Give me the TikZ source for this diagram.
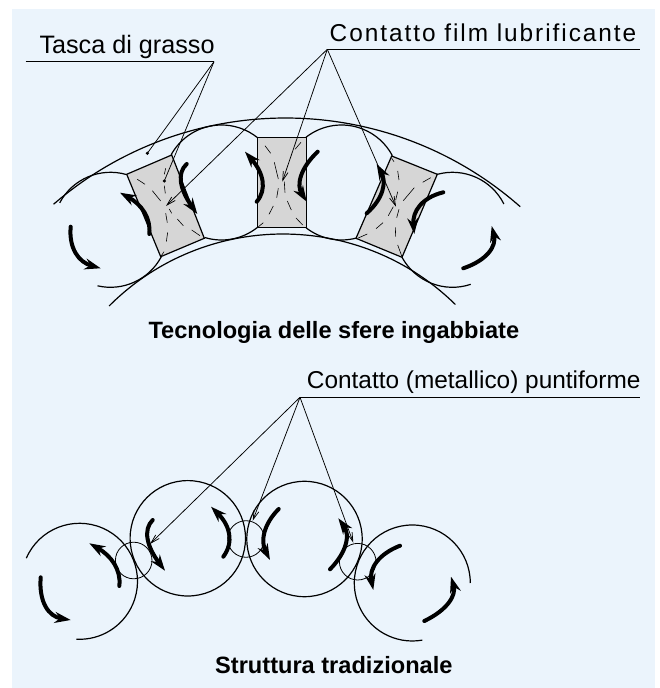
\documentclass[tikz,border=0pt]{standalone}
\usepackage{fontspec}
\setmainfont{Liberation Sans}
\usepackage{xcolor}
\usetikzlibrary{arrows.meta,calc}
\definecolor{cBack}{HTML}{EBF4FC}
\definecolor{cCage}{HTML}{D6D6D6}
\tikzset{
  >={Straight Barb[length=9pt,width=5pt]},
  lbl/.style ={anchor=base west,inner sep=0pt,font=\fontsize{24.4}{28}\selectfont},
  capt/.style={anchor=base west,inner sep=0pt,font=\fontsize{23.6}{28}\selectfont\bfseries},
  rulel/.style={line width=1.1pt},
  lead/.style={line width=0.75pt},
  race/.style={line width=1.2pt},
  ball/.style={line width=1.2pt},
  cage/.style={draw,line width=1.2pt,fill=cCage},
  film/.style={line width=0.6pt},
  spot/.style={line width=0.8pt},
  rot/.style ={line width=4pt,line cap=round,-{Stealth[length=16pt,width=11pt]}},
  dotl/.style={circle,fill,inner sep=0pt,minimum size=3.5pt},
}
\begin{document}
\begin{tikzpicture}[x=1pt,y=1pt]
  \useasboundingbox (0,0) rectangle (660,688);
  \fill[cBack] (12,0) rectangle (655,679);
  % upper bearing
  \draw[cage] (126.7,513.7)--(171.7,533)--(204.3,449.7)--(160.7,431.3)--cycle;
  \draw[cage] (257.3,550.3)--(306.3,550.3)--(306.3,460.3)--(257.3,460.3)--cycle;
  \draw[cage] (391.7,532)--(437.3,513.7)--(402,430.7)--(356,449.7)--cycle;
  \foreach \xa/\ya/\xb/\yb in {
    137.3/508.7/145/503.7, 152.3/497.3/160.7/487, 164.3/502.3/165.3/494.7,
    165.7/474.7/167.3/465.3, 177.3/469/183.3/462.3, 191.7/458/200/452.3,
    167.7/455.7/166.3/446.3, 169.3/479/171.7/474.7, 165.7/519.7/164.3/513.7,
    160.7/431.3/164/436.3,
    265/542.3/270.7/534.7, 301/545.7/295/538.7, 274.3/525.7/278.3/509,
    284.3/506.3/285/495.3, 278.3/499.7/276.7/490.3, 273.3/482/269/473.7,
    287.3/487/291.3/478, 296/470/302.7/463, 263.3/465.3/257.3/460.3,
    391.7/529.7/394/526.3, 397.7/517/399/508, 430.7/510.3/422.7/505.7,
    414.3/500.3/403.3/487.3, 397.7/496.3/395.7/488, 393.3/481.3/388.3/472.3,
    399/478.7/396.7/470.3, 383/465.3/376/459.3, 395.3/460.7/395.7/451.3,
    367.3/454/358.3/450, 397.7/443/401.7/432}
    \draw[film] (\xa,\ya)--(\xb,\yb);
  \coordinate (ballA) at (110.5,458.2);
  \coordinate (ballB) at (221.5,505.5);
  \coordinate (ballC) at (341.5,505.5);
  \coordinate (ballD) at (452.5,458.2);
  \foreach \bname/\sa/\ea in {ballA/152/74, ballA/-28/-103, ballB/151/51.4, ballB/252.9/308.4,
    ballC/128.2/27.8, ballC/232/284.6, ballD/105.3/26.7, ballD/208.6/288.5}
    \draw[ball] (\bname) ++(\sa:57.5) arc[start angle=\sa,end angle=\ea,radius=57.5];
  \coordinate (raceO) at (285.5,215);
  \coordinate (raceI) at (283,208);
  \draw[race] (raceO) ++(130.8:355) arc[start angle=130.8,end angle=48.6,radius=355];
  \draw[race] (raceI) ++(135:246) arc[start angle=135,end angle=45.5,radius=246];
  \foreach \xa/\ya/\xc/\yc/\xb/\yb in {
    70.7/461.3/67.7/428.9/100.7/419.7, 149.3/454/152/478/120/495.3,
    186.7/524/171.4/510.4/197.3/474, 256.7/486.3/272.6/504.7/245/536.3,
    317.7/536.3/291.2/511.3/306.7/486.3, 366.7/474.7/391.7/496.7/376.7/524,
    443.3/495.7/411.2/487.8/414.3/454, 463.3/419.7/499.1/431.8/491.7/462}
    \draw[rot] (\xa,\ya) .. controls ($(\xa,\ya)!0.667!(\xc,\yc)$) and ($(\xb,\yb)!0.667!(\xc,\yc)$) .. (\xb,\yb);
  % lower bearing
  \draw[ball] (187.8,149.7) circle[radius=57.7];
  \draw[ball] (304.5,149) circle[radius=57.7];
  \coordinate (ballE) at (79.5,106.7);
  \coordinate (ballF) at (412.3,105);
  \draw[ball] (ballE) ++(156.5:58) arc[start angle=156.5,end angle=-93,radius=58];
  \draw[ball] (ballF) ++(0:58) arc[start angle=0,end angle=280,radius=58];
  \foreach \xs/\ys in {133.7/127.5, 246/149, 357.7/126.3}
    \draw[spot] (\xs,\ys) circle[radius=18.3];
  \foreach \xa/\ya/\xc/\yc/\xb/\yb in {
    40.7/110.7/37.7/73.3/70.7/68, 119.3/102/122.3/126/89.3/144.7,
    152.7/168/137.8/153.4/165/117.3, 223.3/131.3/239.5/153.1/211/181.3,
    278.7/179/255.7/155.9/270/128, 330/118.7/355.9/145.2/338.3/169.7,
    400/142.3/366.8/129.3/373.3/98, 424.3/67/459/83.5/451/111.3}
    \draw[rot] (\xa,\ya) .. controls ($(\xa,\ya)!0.667!(\xc,\yc)$) and ($(\xb,\yb)!0.667!(\xc,\yc)$) .. (\xb,\yb);
  % labels
  \node[lbl,font=\fontsize{25.2}{28}\selectfont] (tasca) at (39.3,634.7) {Tasca di grasso};
  \node[lbl] (filmc) at (329.5,646) {\addfontfeature{LetterSpace=8}Contatto film lubrificante};
  \node[lbl] (punto) at (306.7,299.7) {Contatto (metallico) puntiforme};
  \node[capt] (cuno) at (148.3,349.7) {Tecnologia delle sfere ingabbiate};
  \node[capt] (cdue) at (215,14) {Struttura tradizionale};
  % leaders
  \coordinate (tascaL) at (25.7,626.3);
  \coordinate (tascaR) at (214,626.3);
  \coordinate (filmR) at (327.3,638.7);
  \coordinate (filmE) at (640,638.7);
  \coordinate (puntoR) at (300,290.7);
  \coordinate (puntoE) at (640,290.7);
  \draw[rulel] (tascaL)--(tascaR);
  \draw[rulel] (filmR)--(filmE);
  \draw[rulel] (puntoR)--(puntoE);
  \node[dotl] (pocketA) at (147.3,534.7) {};
  \node[dotl] (pocketB) at (164.3,507) {};
  \draw[lead] (tascaR)--(pocketA.center);
  \draw[lead] (tascaR)--(pocketB.center);
  \coordinate (filmA) at (166,482);
  \coordinate (filmB) at (282.3,506.3);
  \coordinate (filmC) at (396,481.3);
  \foreach \tgt in {filmA,filmB,filmC}
    \draw[lead,->] (filmR)--(\tgt);
  \coordinate (puntA) at (150,144);
  \coordinate (puntB) at (252.7,167.3);
  \coordinate (puntC) at (353.3,145.3);
  \foreach \tgt in {puntA,puntB,puntC}
    \draw[lead,->] (puntoR)--(\tgt);
\end{tikzpicture}
\end{document}
